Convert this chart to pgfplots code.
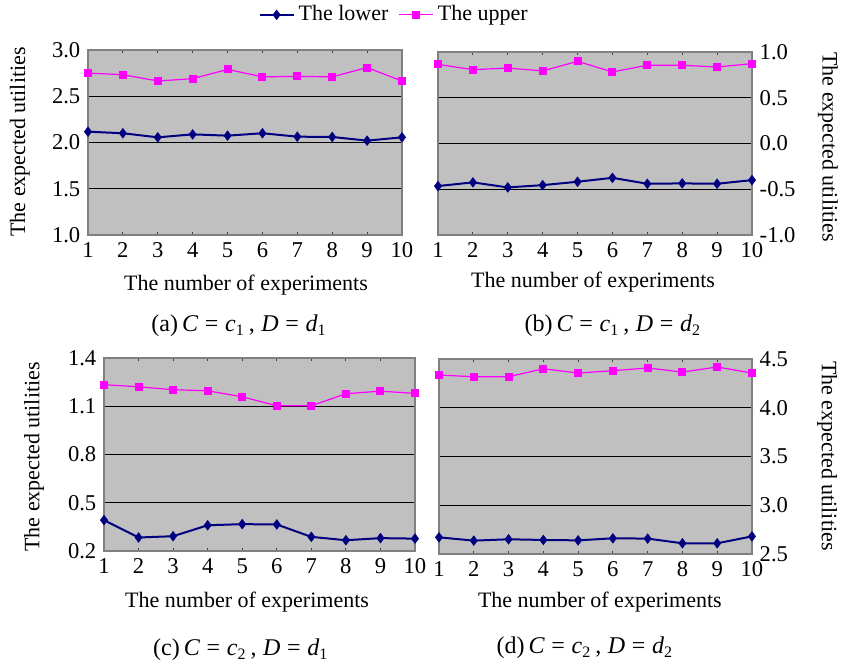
\documentclass[border=0pt]{standalone}
\usepackage{fontspec}
\setmainfont{Liberation Serif}
\usepackage{pgfplots}
\pgfplotsset{compat=1.18}
\usepackage{pgfplotstable}
\definecolor{bg}{HTML}{C0C0C0}
\definecolor{lowc}{HTML}{000080}
\definecolor{upc}{HTML}{FF00FF}
\definecolor{frame}{HTML}{808080}

\pgfplotstableread{
x lo up
1 2.117 2.750
2 2.100 2.733
3 2.056 2.665
4 2.088 2.690
5 2.074 2.790
6 2.100 2.710
7 2.063 2.715
8 2.060 2.710
9 2.020 2.810
10 2.056 2.665
}\dataA
\pgfplotstableread{
x lo up
1 -0.465 0.865
2 -0.425 0.807
3 -0.480 0.825
4 -0.455 0.793
5 -0.418 0.898
6 -0.375 0.782
7 -0.440 0.855
8 -0.436 0.855
9 -0.440 0.836
10 -0.400 0.873
}\dataB
\pgfplotstableread{
x lo up
1 0.392 1.234
2 0.284 1.221
3 0.292 1.203
4 0.360 1.196
5 0.367 1.159
6 0.365 1.103
7 0.288 1.103
8 0.267 1.178
9 0.280 1.194
10 0.277 1.180
}\dataC
\pgfplotstableread{
x lo up
1 2.671 4.336
2 2.637 4.318
3 2.651 4.318
4 2.644 4.400
5 2.640 4.356
6 2.661 4.380
7 2.658 4.408
8 2.610 4.366
9 2.610 4.418
10 2.681 4.356
}\dataD

\newcommand{\capt}[3]{{\fontsize{12}{14}\selectfont (#1)\,\textit{C}\;=\;\textit{c}\textsubscript{#2}\,,\;\textit{D}\;=\;\textit{d}\textsubscript{#3}}}

\pgfplotsset{
  panel/.style={
    scale only axis,
    anchor=south west,
    xmin=1, xmax=10,
    xtick={1,...,10},
    xticklabels={1,2,3,4,5,6,7,8,9,10},
    tick align=inside,
    major tick length=1.5pt,
    xtick style={draw=black!75, line width=0.5pt},
    ytick style={draw=none},
    axis background/.style={fill=bg},
    axis line style={draw=frame, line width=0.6pt},
    ymajorgrids,
    major grid style={draw=black, line width=0.5pt},
    tick label style={font=\fontsize{11.3}{13}\selectfont},
    label style={font=\fontsize{11}{13}\selectfont},
    xlabel={The number of experiments},
    ylabel={The expected utilities},
    clip=false,
  },
  lowstyle/.style={color=lowc, line width=1pt, mark=diamond*, mark size=2.4pt, mark options={fill=lowc, draw=lowc, line width=0.3pt}},
  upstyle/.style={color=upc, line width=0.6pt, mark=square*, mark size=1.7pt, mark options={fill=upc, draw=upc}},
}

\begin{document}
\fontsize{11}{13}\selectfont
\begin{tikzpicture}
\useasboundingbox (0,0) rectangle (420.5pt,-334.5pt);

% (a)
\begin{axis}[panel,
  at={(44pt,-117.5pt)}, width=157pt, height=92.5pt,
  ymin=1, ymax=3, ytick={1,1.5,2,2.5,3},
  yticklabels={1.0,1.5,2.0,2.5,3.0},
  xlabel style={at={(axis description cs:0.503,-0.27)}, anchor=center},
  ylabel style={at={(axis description cs:-0.217,0.503)}, anchor=center, rotate=0},
  legend style={at={(axis description cs:0.978,1.19)}, anchor=center, draw=none, fill=none,
    font=\fontsize{11}{13}\selectfont, legend columns=2,
    /tikz/every even column/.append style={column sep=3pt}},
  legend cell align=left,
]
\addplot[lowstyle] table[x=x,y=lo] {\dataA};
\addlegendentry{The lower}
\addplot[upstyle] table[x=x,y=up] {\dataA};
\addlegendentry{The upper}
\node at (axis description cs:0.481,-0.49) {\capt{a}{1}{1}};
\end{axis}

% (b)
\begin{axis}[panel,
  at={(219pt,-117.5pt)}, width=157pt, height=91.5pt,
  ymin=-1, ymax=1, ytick={-1,-0.5,0,0.5,1},
  yticklabels={-1.0,-0.5,0.0,0.5,1.0},
  yticklabel pos=right,
  xlabel style={at={(axis description cs:0.494,-0.257)}, anchor=center},
  ylabel style={at={(axis description cs:1.242,0.48)}, anchor=center, rotate=180},
]
\addplot[lowstyle] table[x=x,y=lo] {\dataB};
\addplot[upstyle] table[x=x,y=up] {\dataB};
\node at (axis description cs:0.557,-0.497) {\capt{b}{1}{2}};
\end{axis}

% (c)
\begin{axis}[panel,
  at={(52pt,-275.5pt)}, width=155.5pt, height=96.5pt,
  ymin=0.2, ymax=1.4, ytick={0.2,0.5,0.8,1.1,1.4},
  yticklabels={0.2,0.5,0.8,1.1,1.4},
  xlabel style={at={(axis description cs:0.46,-0.264)}, anchor=center},
  ylabel style={at={(axis description cs:-0.225,0.487)}, anchor=center},
]
\addplot[lowstyle] table[x=x,y=lo] {\dataC};
\addplot[upstyle] table[x=x,y=up] {\dataC};
\node at (axis description cs:0.44,-0.513) {\capt{c}{2}{1}};
\end{axis}

% (d)
\begin{axis}[panel,
  at={(219.5pt,-277pt)}, width=156.5pt, height=97.5pt,
  ymin=2.5, ymax=4.5, ytick={2.5,3,3.5,4,4.5},
  yticklabels={2.5,3.0,3.5,4.0,4.5},
  yticklabel pos=right,
  xlabel style={at={(axis description cs:0.514,-0.246)}, anchor=center},
  ylabel style={at={(axis description cs:1.24,0.503)}, anchor=center, rotate=180},
]
\addplot[lowstyle] table[x=x,y=lo] {\dataD};
\addplot[upstyle] table[x=x,y=up] {\dataD};
\node at (axis description cs:0.466,-0.482) {\capt{d}{2}{2}};
\end{axis}
\end{tikzpicture}
\end{document}
